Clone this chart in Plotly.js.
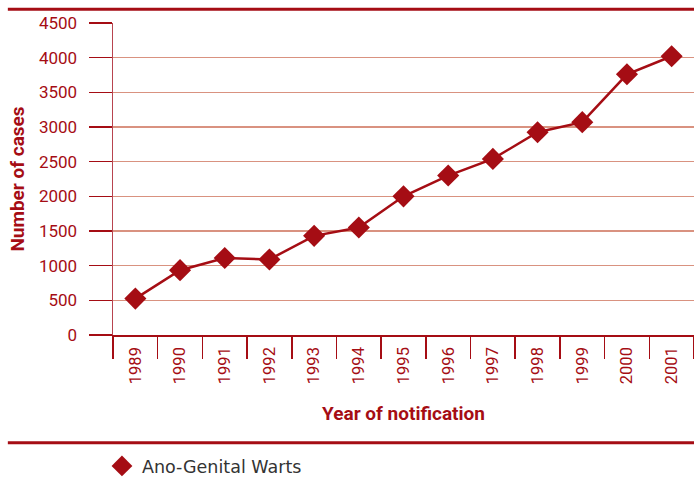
<!DOCTYPE html>
<html>
<head>
<meta charset="utf-8">
<script src="https://cdn.plot.ly/plotly-3.0.1.min.js"></script>
<style>
html,body{margin:0;padding:0;background:#fff;}
#chart{width:694px;height:477px;}
</style>
</head>
<body>
<div id="chart"></div>
<script>
var years = ["1989","1990","1991","1992","1993","1994","1995","1996","1997","1998","1999","2000","2001"];
var cases = [525, 935, 1110, 1090, 1430, 1550, 2000, 2300, 2540, 2925, 3070, 3760, 4020];
var yTicks = [0, 500, 1000, 1500, 2000, 2500, 3000, 3500, 4000, 4500];
var seriesName = "Ano-Genital Warts";

var red = "#a50d14";
var fontFam = "Roboto, 'Open Sans', sans-serif";

var lineTrace = {
  x: years,
  y: cases,
  type: "scatter",
  mode: "lines",
  showlegend: false,
  line: {color: red, width: 2.5},
  hoverinfo: "skip"
};
var markerTrace = {
  x: years,
  y: cases,
  type: "scatter",
  mode: "markers",
  name: seriesName,
  marker: {symbol: "diamond", size: 17, color: red},
  cliponaxis: false
};

var layout = {
  width: 694,
  height: 477,
  margin: {l: 113, r: 0, t: 23, b: 142, pad: 0, autoexpand: false},
  paper_bgcolor: "#fff",
  plot_bgcolor: "#fff",
  font: {family: fontFam, color: red, size: 16},
  showlegend: true,
  legend: {
    x: -0.019, xanchor: "left",
    y: -0.42, yanchor: "middle",
    orientation: "h",
    font: {family: "'DejaVu Sans', sans-serif", size: 17.5, color: "#333"},
    bgcolor: "rgba(0,0,0,0)",
    itemwidth: 30
  },
  xaxis: {
    type: "category",
    range: [-0.5, 12.5],
    tickson: "boundaries",
    ticks: "outside",
    ticklen: 22,
    tickwidth: 1.5,
    tickcolor: red,
    tickangle: -90,
    ticklabelstandoff: 4,
    tickfont: {family: fontFam, size: 16.5, color: red},
    showgrid: false,
    showline: true,
    linecolor: red,
    linewidth: 1.5,
    zeroline: false,
    title: {text: "Year of notification", font: {family: fontFam, size: 19, color: red, weight: "bold"}, standoff: 23}
  },
  yaxis: {
    range: [0, 4500],
    tickvals: yTicks,
    ticktext: yTicks.map(String),
    ticks: "outside",
    ticklen: 23,
    tickwidth: 1.5,
    tickcolor: red,
    ticklabelstandoff: 8,
    tickfont: {family: fontFam, size: 17, color: red},
    showgrid: true,
    gridcolor: "#d99280",
    gridwidth: 1.5,
    showline: true,
    linecolor: "#b8444f",
    linewidth: 1.5,
    zeroline: false,
    title: {text: "Number of cases", font: {family: fontFam, size: 19, color: red, weight: "bold"}, standoff: 9}
  },
  shapes: [
    {type: "line", xref: "paper", yref: "paper", x0: -0.181, x1: 1, y0: 1.044, y1: 1.044, line: {color: red, width: 3}},
    {type: "line", xref: "paper", yref: "paper", x0: -0.181, x1: 1, y0: -0.345, y1: -0.345, line: {color: red, width: 3}}
  ]
};

Plotly.newPlot("chart", [lineTrace, markerTrace], layout, {displayModeBar: false, staticPlot: true});
</script>
</body>
</html>
